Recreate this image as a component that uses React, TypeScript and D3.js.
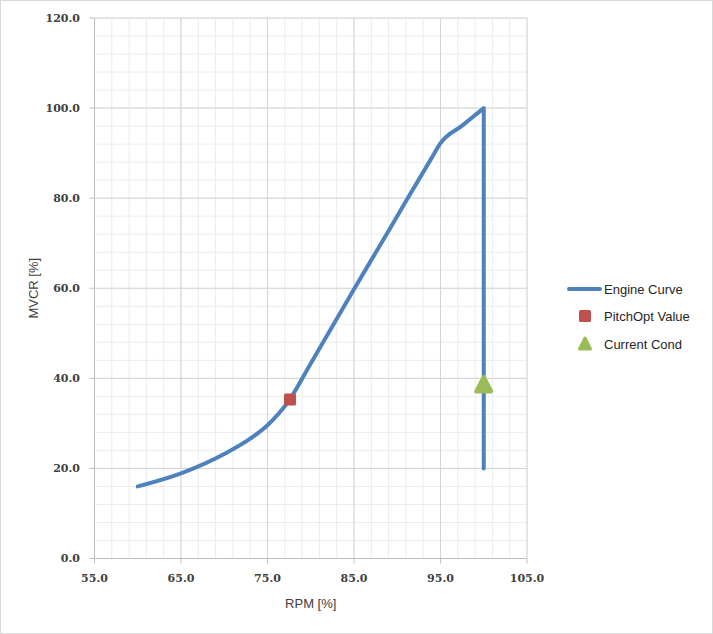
import React from "react";
import * as d3 from "d3";

const engineRpm = [60, 65, 70, 73, 75, 77.5, 80, 85, 88, 91, 94, 95, 97.5, 99, 100];
const engineMcr = [16, 18.9, 23.2, 26.6, 29.6, 35.1, 43.3, 59.8, 69.5, 79.3, 89.0, 92.2, 96.1, 98.44, 100];
const dropRpm = [100, 100];
const dropMcr = [100, 20];
const pitchOptRpm = [77.6];
const pitchOptMcr = [35.3];
const currentRpm = [100];
const currentMcr = [38.6];
const xTicks = [55, 65, 75, 85, 95, 105];
const yTicks = [0, 20, 40, 60, 80, 100, 120];
const legendLabels = ["Engine Curve", "PitchOpt Value", "Current Cond"];

const W = 713, H = 634;
const BLUE = "#4F81BD", RED = "#C0504D", GREEN = "#9BBB59";

export default function App() {
  const x = d3.scaleLinear().domain([55, 105]).range([94.5, 527]);
  const y = d3.scaleLinear().domain([0, 120]).range([558.5, 18]);
  const xMinor = d3.range(55, 105.001, 2);
  const yMinor = d3.range(0, 120.001, 4);

  const pts: [number, number][] = engineRpm.map((r, i) => [x(r), y(engineMcr[i])]);
  const smooth = d3.line().curve(d3.curveMonotoneX)(pts) || "";
  const drop = d3.line()(dropRpm.map((r, i) => [x(r), y(dropMcr[i])] as [number, number])) || "";
  const enginePath = smooth + drop.replace(/^M/, "L");

  const tri = (cx: number, cy: number, s: number) => {
    const h = s * 0.9;
    return `M${cx},${cy - h / 2 - 1} L${cx + s / 2},${cy + h / 2} L${cx - s / 2},${cy + h / 2} Z`;
  };

  const tickFont = { fontFamily: "DejaVu Serif", fontWeight: "bold" as const, fontSize: 11, fill: "#404040" };
  const labFont = { fontFamily: "Liberation Sans", fontSize: 13, fill: "#404040" };

  return (
    <svg width={W} height={H} style={{ position: "absolute", left: 0, top: 0 }}>
      <rect x={0.5} y={0.5} width={W - 1} height={H - 1} fill="#fff" stroke="#d9d9d9" />
      {xMinor.map((v) => (
        <line key={"xm" + v} x1={x(v)} x2={x(v)} y1={y(0)} y2={y(120)} stroke="#ececec" />
      ))}
      {yMinor.map((v) => (
        <line key={"ym" + v} x1={x(55)} x2={x(105)} y1={y(v)} y2={y(v)} stroke="#ececec" />
      ))}
      {xTicks.map((v) => (
        <line key={"xM" + v} x1={x(v)} x2={x(v)} y1={y(0)} y2={y(120)} stroke="#d4d4d4" />
      ))}
      {yTicks.map((v) => (
        <line key={"yM" + v} x1={x(55)} x2={x(105)} y1={y(v)} y2={y(v)} stroke="#d4d4d4" />
      ))}
      <line x1={x(55)} x2={x(55)} y1={y(0)} y2={y(120)} stroke="#bfbfbf" />
      <line x1={x(55)} x2={x(105)} y1={y(0)} y2={y(0)} stroke="#bfbfbf" />
      {yTicks.map((v) => (
        <g key={"yt" + v}>
          <line x1={x(55) - 5} x2={x(55)} y1={y(v)} y2={y(v)} stroke="#bfbfbf" />
          <text x={80} y={y(v)} dy="0.35em" textAnchor="end" {...tickFont}>{v.toFixed(1)}</text>
        </g>
      ))}
      {xTicks.map((v) => (
        <g key={"xt" + v}>
          <line x1={x(v)} x2={x(v)} y1={y(0)} y2={y(0) + 5} stroke="#bfbfbf" />
          <text x={x(v)} y={582} textAnchor="middle" {...tickFont}>{v.toFixed(1)}</text>
        </g>
      ))}
      <text x={(x(55) + x(105)) / 2} y={608} textAnchor="middle" {...labFont}>RPM [%]</text>
      <text transform={`translate(38,${(y(0) + y(120)) / 2}) rotate(-90)`} textAnchor="middle" {...labFont}>MVCR [%]</text>

      <path d={enginePath} fill="none" stroke={BLUE} strokeWidth={4} strokeLinejoin="round" strokeLinecap="round" />
      {pitchOptRpm.map((r, i) => (
        <rect key={"p" + i} x={x(r) - 6} y={y(pitchOptMcr[i]) - 6} width={12} height={12} rx={1.5} fill={RED} />
      ))}
      {currentRpm.map((r, i) => (
        <path key={"c" + i} d={tri(x(r), y(currentMcr[i]), 15)} fill={GREEN} stroke={GREEN} strokeWidth={4} strokeLinejoin="round" />
      ))}

      <g>
        <line x1={569} x2={600} y1={289} y2={289} stroke={BLUE} strokeWidth={4} strokeLinecap="round" />
        <text x={604} y={289} dy="0.35em" {...labFont} fontSize={13} fill="#262626">{legendLabels[0]}</text>
        <rect x={579} y={310} width={12} height={12} rx={1.5} fill={RED} />
        <text x={604} y={316} dy="0.35em" {...labFont} fontSize={13} fill="#262626">{legendLabels[1]}</text>
        <path d={tri(585, 344, 11)} fill={GREEN} stroke={GREEN} strokeWidth={3} strokeLinejoin="round" />
        <text x={604} y={344} dy="0.35em" {...labFont} fontSize={13} fill="#262626">{legendLabels[2]}</text>
      </g>
    </svg>
  );
}
